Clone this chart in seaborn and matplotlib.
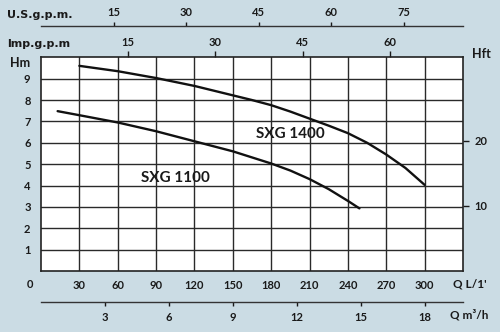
import matplotlib
matplotlib.use("Agg")
import matplotlib.pyplot as plt
import seaborn as sns
import pandas as pd

# ---- data ----
q_1400 = [30, 60, 90, 120, 150, 165, 180, 195, 210, 225, 240, 255, 270, 285, 300]
h_1400 = [9.6, 9.35, 9.03, 8.66, 8.22, 8.0, 7.76, 7.46, 7.13, 6.8, 6.45, 6.0, 5.45, 4.82, 4.03]
q_1100 = [13, 30, 60, 90, 120, 150, 180, 195, 210, 225, 240, 249]
h_1100 = [7.48, 7.29, 6.95, 6.54, 6.07, 5.6, 5.03, 4.7, 4.3, 3.83, 3.28, 2.93]
x_ticks = [30, 60, 90, 120, 150, 180, 210, 240, 270, 300]
y_ticks = [1, 2, 3, 4, 5, 6, 7, 8, 9]
us_ticks = [15, 30, 45, 60, 75]
imp_ticks = [15, 30, 45, 60]
m3h_ticks = [3, 6, 9, 12, 15, 18]
hft_ticks = [10, 20]
names = ["SXG 1400", "SXG 1100"]

sns.set_theme(style="white")
plt.rcParams['font.family'] = ['Lato', 'DejaVu Sans']
BG = "#cbdce4"
W, H = 500, 332

fig = plt.figure(figsize=(5, 3.32), dpi=100, facecolor=BG)
L, R, T, B = 41, 463, 57.3, 271
ax = fig.add_axes([L / W, 1 - B / H, (R - L) / W, (B - T) / H])
ax.set_facecolor("white")

df = pd.concat([
    pd.DataFrame({"q": q_1400, "h": h_1400, "pump": names[0]}),
    pd.DataFrame({"q": q_1100, "h": h_1100, "pump": names[1]}),
])
sns.lineplot(data=df, x="q", y="h", units="pump", estimator=None, color="#111111",
             linewidth=1.7, ax=ax, sort=False, legend=False)

ax.set_xlim(0, 330)
ax.set_ylim(0, 10)
ax.set_xticks(x_ticks)
ax.set_yticks(y_ticks)
ax.grid(True, color="#2a2a2a", linewidth=1.0)
ax.set_axisbelow(True)
for s in ax.spines.values():
    s.set_visible(True)
    s.set_color("#222222")
    s.set_linewidth(1.2)
ax.tick_params(axis="x", length=0, pad=6.5, labelsize=8, colors="#1a1a1a")
ax.tick_params(axis="y", length=0, pad=7.5, labelsize=8, colors="#1a1a1a")
for lab in ax.get_xticklabels() + ax.get_yticklabels():
    lab.set_fontweight("bold")
ax.set_xlabel("")
ax.set_ylabel("")

# label positions converted from pixel positions
px_per_q = (R - L) / 330
px_per_h = (B - T) / 10
ax.text((290.3 - L) / px_per_q, (B - 134.3) / px_per_h, names[0], fontsize=11,
        fontweight="bold", ha="center", va="center", color="#1a1a1a")
ax.text((175.5 - L) / px_per_q, (B - 177.5) / px_per_h, names[1], fontsize=11,
        fontweight="bold", ha="center", va="center", color="#1a1a1a")

ph = B - T
# Imp gpm (top spine)
imp = ax.secondary_xaxis("top", functions=(lambda x: x / 4.54609, lambda g: g * 4.54609))
imp.set_xticks(imp_ticks)
imp.tick_params(direction="out", length=4, width=1, pad=2.5, labelsize=8, colors="#1a1a1a")
imp.spines["top"].set_visible(False)
for lab in imp.get_xticklabels():
    lab.set_fontweight("bold")

# US gpm
us = ax.secondary_xaxis(1 + (T - 25.7) / ph, functions=(lambda x: x / 3.78541, lambda g: g * 3.78541))
us.set_xticks(us_ticks)
us.tick_params(direction="out", length=3, width=1, pad=2.5, labelsize=8, colors="#1a1a1a")
us.spines["top"].set_color("#333333")
us.spines["top"].set_linewidth(1.0)
for lab in us.get_xticklabels():
    lab.set_fontweight("bold")

# m3/h
m3 = ax.secondary_xaxis(-(302.3 - B) / ph, functions=(lambda x: x * 0.06, lambda m: m / 0.06))
m3.set_xticks(m3h_ticks)
m3.tick_params(direction="out", length=3, width=1, pad=4, labelsize=8, colors="#1a1a1a")
m3.spines["bottom"].set_color("#333333")
m3.spines["bottom"].set_linewidth(1.0)
for lab in m3.get_xticklabels():
    lab.set_fontweight("bold")

# Hft
hf = ax.secondary_yaxis("right", functions=(lambda m: m / 0.3048, lambda f: f * 0.3048))
hf.set_yticks(hft_ticks)
hf.tick_params(direction="out", length=4, width=1, pad=4.5, labelsize=8, colors="#1a1a1a")
hf.spines["right"].set_visible(False)
for lab in hf.get_yticklabels():
    lab.set_fontweight("bold")

def ftext(x, y, s, **kw):
    fig.text(x / W, 1 - y / H, s, fontweight="bold", color="#1a1a1a", **kw)

ftext(7, 15, "U.S.g.p.m.", fontsize=8, ha="left", va="center", family=["DejaVu Sans"])
ftext(7, 44, "lmp.g.p.m", fontsize=8, ha="left", va="center", family=["DejaVu Sans"])
ftext(20.5, 63, "Hm", fontsize=9, ha="center", va="center")
ftext(481, 53.5, "Hft", fontsize=9, ha="center", va="center")
ftext(29.7, 284, "0", fontsize=8, ha="center", va="center")
ftext(470, 284, "Q L/1'", fontsize=8.5, ha="center", va="center")
ftext(469, 315, "Q m³/h", fontsize=8.5, ha="center", va="center")

fig.savefig("out.png", dpi=100, facecolor=BG)
